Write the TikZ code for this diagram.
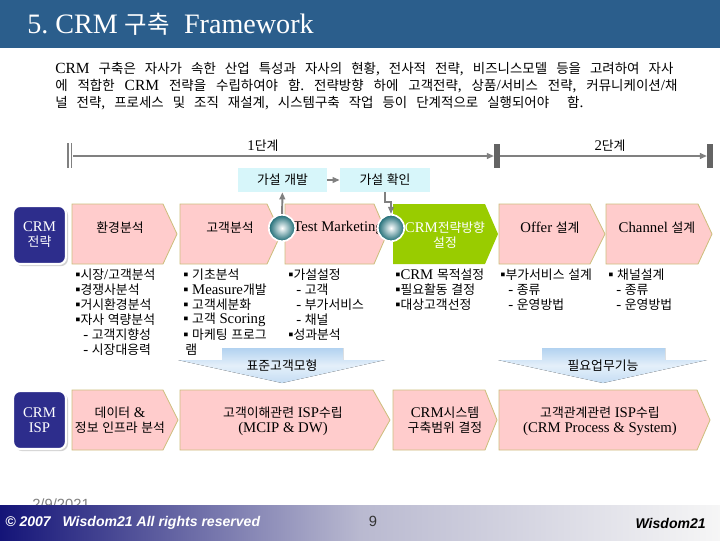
\documentclass[tikz,border=0pt]{standalone}
\usepackage{fontspec}
\setmainfont{Liberation Serif}
\newfontfamily\krfont[Scale=0.87]{Noto Sans CJK KR}
\newfontfamily\footfont{Liberation Sans}
\usetikzlibrary{arrows.meta,shadows}
\frenchspacing

% Hangul syllables are set in the Korean font
\XeTeXinterchartokenstate=1
\newXeTeXintercharclass\HangulClass
\count255="AC00
\loop
  \XeTeXcharclass\count255=\HangulClass
  \ifnum\count255<"D7A3 \advance\count255 by 1
\repeat
\XeTeXinterchartoks 0 \HangulClass = {\begingroup\krfont}
\XeTeXinterchartoks 4095 \HangulClass = {\begingroup\krfont}
\XeTeXinterchartoks \HangulClass 0 = {\endgroup}
\XeTeXinterchartoks \HangulClass 4095 = {\endgroup}

\definecolor{titleBlue}{RGB}{43,94,140}
\definecolor{stepPink}{RGB}{255,204,204}
\definecolor{stepLine}{RGB}{205,190,125}
\definecolor{stepGreen}{RGB}{153,204,0}
\definecolor{crmNavy}{RGB}{45,45,140}
\definecolor{hypCyan}{RGB}{215,246,250}
\definecolor{ballTeal}{RGB}{25,105,115}
\definecolor{stageGray}{RGB}{128,128,128}
\definecolor{barGray}{RGB}{100,100,100}
\definecolor{flowBlue}{RGB}{178,210,240}
\definecolor{footNavy}{RGB}{20,20,120}
\definecolor{footMid}{RGB}{185,185,208}
\definecolor{footLight}{RGB}{246,246,246}

\begin{document}
\begin{tikzpicture}[x=0.025cm,y=-0.025cm,>={Triangle[length=5pt,width=4pt]},
  every node/.style={inner sep=0pt},
  txt/.style={font=\fontsize{10.5}{10.6}\selectfont},
  item/.style={txt,anchor=west},
  lbl/.style={txt,align=center},
  intro/.style={anchor=west,font=\fontsize{11}{12}\selectfont},
  stepbox/.style={fill=stepPink,draw=stepLine,line width=0.6pt},
  crmbox/.style={lbl,rounded corners=5pt,fill=crmNavy,draw=white,line width=1.5pt,
    text=white,minimum width=1.32cm,minimum height=1.45cm,
    drop shadow={shadow xshift=1.5pt,shadow yshift=-1.5pt,fill=gray!70}},
  hypbox/.style={txt,fill=hypCyan,minimum height=0.6cm},
  hyp/.style={->,draw=stageGray,line width=1.4pt},
  ball/.style={circle,minimum size=0.66cm,draw=white,line width=1.2pt,
    inner color=white,outer color=ballTeal},
  flow/.style={top color=flowBlue,bottom color=flowBlue!75,middle color=flowBlue!35}]
\useasboundingbox (0,0) rectangle (720,540);
% title bar
\fill[titleBlue] (0,0) rectangle (720,48);
\node[anchor=west,text=white,font=\fontsize{20}{24}\selectfont] (title) at (27,24)
  {5. CRM 구축\ \ Framework};
% intro text
\node[intro] (intro1) at (55,69)
  {\makebox[15.45cm][s]{CRM 구축은 자사가 속한 산업 특성과 자사의 현황, 전사적 전략, 비즈니스모델 등을 고려하여 자사}};
\node[intro] (intro2) at (55,86)
  {\makebox[15.55cm][s]{에 적합한 CRM 전략을 수립하여야 함. 전략방향 하에 고객전략, 상품/서비스 전략, 커뮤니케이션/채}};
\node[intro] (intro3) at (55,103)
  {\makebox[13.2cm][s]{널 전략, 프로세스 및 조직 재설계, 시스템구축 작업 등이 단계적으로 실행되어야\ \ 함.}};
% stage lines
\draw[stageGray,line width=1pt] (68,143) -- (68,168) (71.5,143) -- (71.5,168);
\draw[stageGray,line width=1.6pt,->] (73,156) -- (494,156);
\fill[barGray] (494,144) rectangle (500,168);
\draw[stageGray,line width=1.6pt,->] (500,156) -- (707,156);
\fill[barGray] (707,144) rectangle (713,168);
\node[txt] (stage1) at (263,146) {1단계};
\node[txt] (stage2) at (610,146) {2단계};
% hypothesis boxes
\node[hypbox,minimum width=2.23cm] (dev) at (282.5,180) {가설 개발};
\node[hypbox,minimum width=2.25cm] (chk) at (385,180) {가설 확인};
\draw[hyp] (dev) -- (chk);
% strategy row
\node[crmbox] (crm1) at (39.5,235) {CRM\\전략};
\foreach \xa/\xb/\xc in {72/163/177,180/267/281,285/374/387,499/590/605,606/698/712}
  \filldraw[stepbox] (\xa,204) -- (\xb,204) -- (\xc,234) -- (\xb,264) -- (\xa,264) -- cycle;
\node[txt] (env) at (120,228) {환경분석};
\node[txt] (cust) at (230,228) {고객분석};
\node[txt,anchor=west] (test) at (293,228) {Test Marketing};
\node[txt] (offer) at (550,228) {Offer 설계};
\node[txt] (chan) at (657,228) {Channel 설계};
\fill[stepGreen] (393,204) -- (485,204) -- (498,234) -- (485,264) -- (393,264) -- cycle;
\node[lbl,text=white] (dir) at (445,235) {CRM전략방향\\설정};
% checkpoints
\node[ball] (c1) at (282,228) {};
\node[ball] (c2) at (391,228) {};
\draw[hyp] (c1) -- (dev);
\draw[hyp] (chk.south) -- ++(0,10) -| (c2.north);
% detail lists
\foreach \dx/\t [count=\i] in {0/{▪시장/고객분석},0/▪경쟁사분석,0/▪거시환경분석,0/▪자사 역량분석,8/- 고객지향성,8/- 시장대응력}
  \node[item] (envl-\i) at (75+\dx,275+15*\i-15) {\t};
\foreach \dx/\t [count=\i] in {0/▪ 기초분석,0/▪ Measure개발,0/▪ 고객세분화,0/▪ 고객 Scoring,0/▪ 마케팅 프로그,2/램}
  \node[item] (custl-\i) at (183+\dx,275+15*\i-15) {\t};
\foreach \dx/\t [count=\i] in {0/▪가설설정,8/- 고객,8/- 부가서비스,8/- 채널,0/▪성과분석}
  \node[item] (testl-\i) at (288+\dx,275+15*\i-15) {\t};
\foreach \dx/\t [count=\i] in {0/▪CRM 목적설정,0/▪필요활동 결정,0/▪대상고객선정}
  \node[item] (dirl-\i) at (395+\dx,275+15*\i-15) {\t};
\foreach \dx/\t [count=\i] in {0/▪부가서비스 설계,8/- 종류,8/- 운영방법}
  \node[item] (offl-\i) at (500+\dx,275+15*\i-15) {\t};
\foreach \dx/\t [count=\i] in {0/▪ 채널설계,8/- 종류,8/- 운영방법}
  \node[item] (chanl-\i) at (608+\dx,275+15*\i-15) {\t};
% output arrows
\foreach \xl/\sl/\sr/\xr/\xt in {178/222/343/385/282,498/542/665/707/603}
  \fill[flow] (\sl,348) -- (\sr,348) -- (\sr,360) -- (\xr,360) -- (\xt,383)
    -- (\xl,360) -- (\sl,360) -- cycle;
\node[txt] (model) at (282,366) {표준고객모형};
\node[txt] (func) at (603,366) {필요업무기능};
% ISP row
\node[crmbox] (crm2) at (39.5,420) {CRM\\ISP};
\foreach \xa/\xb/\xc in {72/163/178,180/373/390,393/485/497,499/697/710}
  \filldraw[stepbox] (\xa,390) -- (\xb,390) -- (\xc,420) -- (\xb,450) -- (\xa,450) -- cycle;
\node[lbl] (data) at (120,420.5) {데이터 \&\\정보 인프라 분석};
\node[lbl] (ispa) at (283,421) {고객이해관련 ISP수립\\(MCIP \& DW)};
\node[lbl] (scope) at (445,420.5) {CRM시스템\\구축범위 결정};
\node[lbl] (ispb) at (600,421) {고객관계관련 ISP수립\\(CRM Process \& System)};
% footer
\node[anchor=north west,text=gray,font=\footfont\fontsize{10.5}{12}\selectfont] (date) at (32,499) {2/9/2021};
\fill[left color=footNavy,right color=footMid] (0,505) rectangle (360,540);
\fill[left color=footMid,right color=footLight] (360,505) rectangle (720,540);
\node[anchor=west,text=white,font=\footfont\bfseries\itshape\fontsize{10}{12}\selectfont] (copy) at (5,523)
  {© 2007\ \ \ Wisdom21 All rights reserved};
\node[text=black!80,font=\footfont\fontsize{10.5}{12}\selectfont] (page) at (373,521) {9};
\node[anchor=east,font=\footfont\bfseries\itshape\fontsize{10}{12}\selectfont] (brand) at (706,523) {Wisdom21};
\end{tikzpicture}
\end{document}
